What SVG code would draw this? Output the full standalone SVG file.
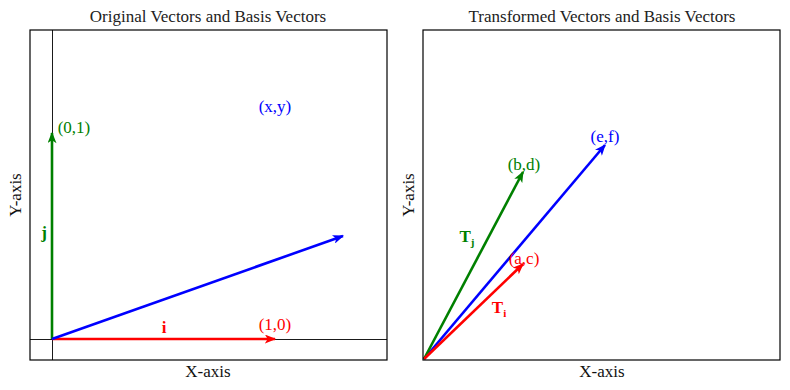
<svg xmlns="http://www.w3.org/2000/svg" width="790" height="390" viewBox="0 0 790 390">
<style>
text{font-family:"Liberation Serif","DejaVu Serif",serif;}
.t{font-size:17px;fill:#222;text-anchor:middle;}
.ax{font-size:17px;fill:#111;text-anchor:middle;}
.lb{font-size:17px;text-anchor:middle;}
.frame{fill:none;stroke:#000;stroke-width:1.2;}
.axl{stroke:#000;stroke-width:0.9;}
.vec{stroke-width:2.6;fill:none;}
</style>
<defs>
<marker id="ar" viewBox="0 0 10 8" refX="9" refY="4" markerWidth="12" markerHeight="9" markerUnits="userSpaceOnUse" orient="auto"><path d="M0,0 L10,4 L0,8 L2.5,4 Z" fill="#f00"/></marker>
<marker id="ag" viewBox="0 0 10 8" refX="9" refY="4" markerWidth="12" markerHeight="9" markerUnits="userSpaceOnUse" orient="auto"><path d="M0,0 L10,4 L0,8 L2.5,4 Z" fill="#008000"/></marker>
<marker id="ab" viewBox="0 0 10 8" refX="9" refY="4" markerWidth="12" markerHeight="9" markerUnits="userSpaceOnUse" orient="auto"><path d="M0,0 L10,4 L0,8 L2.5,4 Z" fill="#00f"/></marker>
</defs>
<rect width="790" height="390" fill="#fff"/>
<g id="left-panel">
<text class="t" x="208" y="22">Original Vectors and Basis Vectors</text>
<rect class="frame" x="30" y="30" width="357" height="330"/>
<line class="axl" x1="52.5" y1="30" x2="52.5" y2="360"/>
<line class="axl" x1="30" y1="339.5" x2="387" y2="339.5"/>
<text class="ax" x="208" y="377">X-axis</text>
<text class="ax" transform="translate(21,195) rotate(-90)">Y-axis</text>
</g>
<g id="connectors">
<line class="vec" stroke="#f00" x1="52" y1="339" x2="275" y2="339" marker-end="url(#ar)"/>
<line class="vec" stroke="#008000" x1="52" y1="339" x2="52" y2="133" marker-end="url(#ag)"/>
<line class="vec" stroke="#00f" x1="52" y1="339" x2="343" y2="236" marker-end="url(#ab)"/>
<line class="vec" stroke="#00f" x1="424" y1="359" x2="605" y2="145" marker-end="url(#ab)"/>
<line class="vec" stroke="#008000" x1="424" y1="359" x2="523" y2="172" marker-end="url(#ag)"/>
<line class="vec" stroke="#f00" x1="424" y1="359" x2="523" y2="264" marker-end="url(#ar)"/>
</g>
<g id="left-labels">
<text class="lb" fill="#008000" x="74" y="133">(0,1)</text>
<text class="lb" fill="#008000" x="44" y="238" font-weight="bold">j</text>
<text class="lb" fill="#f00" x="164" y="333" font-weight="bold">i</text>
<text class="lb" fill="#f00" x="275" y="330">(1,0)</text>
<text class="lb" fill="#00f" x="275" y="112">(x,y)</text>
</g>
<g id="right-panel">
<text class="t" x="602" y="22">Transformed Vectors and Basis Vectors</text>
<rect class="frame" x="423" y="30" width="357" height="330"/>
<text class="ax" x="602" y="377">X-axis</text>
<text class="ax" transform="translate(414,195) rotate(-90)">Y-axis</text>
</g>
<g id="right-labels">
<text class="lb" fill="#f00" x="524" y="264">(a,c)</text>
<text class="lb" fill="#008000" x="524" y="170">(b,d)</text>
<text class="lb" fill="#00f" x="605" y="142">(e,f)</text>
<text class="lb" fill="#008000" x="467" y="242" font-weight="bold">T<tspan font-size="11" dy="4">j</tspan></text>
<text class="lb" fill="#f00" x="499" y="313" font-weight="bold">T<tspan font-size="11" dy="4">i</tspan></text>
</g>
</svg>
